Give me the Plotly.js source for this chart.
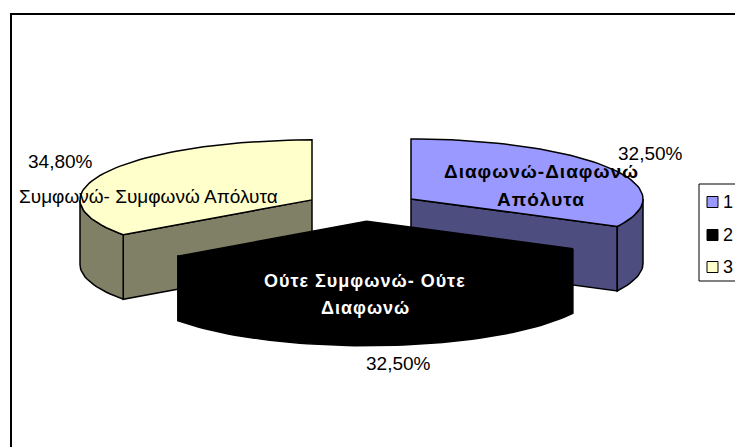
<!DOCTYPE html>
<html>
<head>
<meta charset="utf-8">
<script src="https://cdn.plot.ly/plotly-3.0.1.min.js"></script>
<style>
html,body{margin:0;padding:0;background:#fff;overflow:hidden}
#chart{width:735px;height:447px}
.annotation-text tspan[style*="bold"]{letter-spacing:1px}
</style>
</head>
<body>
<div id="chart"></div>
<script>
// Data
var sliceIds = ['1', '2', '3'];
var sliceValues = [32.5, 32.5, 34.8];
var valueLabels = ['32,50%', '32,50%', '34,80%'];
var sliceLabelLines = [['Διαφωνώ-Διαφωνώ', 'Απόλυτα'], ['Ούτε Συμφωνώ- Ούτε', 'Διαφωνώ'], ['Συμφωνώ- Συμφωνώ Απόλυτα']];

// Styles
var topColors = ['#9999FF', '#000000', '#FFFFCC'];
var sideColors = ['#4D4D80', '#000000', '#808066'];

// Projection of the tilted pie
var cx = 362.5, cy = 206.6, rx = 232, ry = 60, depth = 64.5, explode = 56.8;
var total = sliceValues.reduce(function (a, b) { return a + b; }, 0);

function pt(o, t, dz) {
  var r = t * Math.PI / 180;
  return [o[0] + rx * Math.sin(r), o[1] - ry * Math.cos(r) + (dz || 0)];
}
var slices = [], acc = 0;
sliceValues.forEach(function (v) {
  var a0 = acc / total * 360, a1 = (acc + v) / total * 360, m = (a0 + a1) / 2 * Math.PI / 180;
  acc += v;
  slices.push({a0: a0, a1: a1, o: [cx + explode * Math.sin(m), cy - explode * ry / rx * Math.cos(m)]});
});
function arc(o, a0, a1, dz) {
  var n = Math.max(2, Math.ceil(Math.abs(a1 - a0) / 2)), out = [];
  for (var i = 0; i <= n; i++) out.push(pt(o, a0 + (a1 - a0) * i / n, dz));
  return out;
}
function poly(points, fill, name) {
  points = points.concat([points[0]]);
  return {
    type: 'scatter', mode: 'lines', name: name, showlegend: false, hoverinfo: 'skip',
    x: points.map(function (p) { return p[0]; }),
    y: points.map(function (p) { return p[1]; }),
    fill: 'toself', fillcolor: fill,
    line: {color: '#000000', width: 1.5}
  };
}
function rim(s, a0, a1, fill, name) {
  return poly(arc(s.o, a0, a1, 0).concat(arc(s.o, a1, a0, depth)), fill, name);
}
function cutFace(s, angle, fill, name) {
  var e = pt(s.o, angle, 0), e2 = pt(s.o, angle, depth);
  return poly([s.o, e, e2, [s.o[0], s.o[1] + depth]], fill, name);
}
function topFace(s, fill, name) {
  return poly([s.o].concat(arc(s.o, s.a0, s.a1, 0)), fill, name);
}

var traces = [
  cutFace(slices[2], slices[2].a0, sideColors[2], 'side 3'),
  rim(slices[2], slices[2].a0, 270, sideColors[2], 'rim 3'),
  topFace(slices[2], topColors[2], 'top 3'),
  cutFace(slices[0], slices[0].a1, sideColors[0], 'side 1'),
  rim(slices[0], 90, slices[0].a1, sideColors[0], 'rim 1'),
  topFace(slices[0], topColors[0], 'top 1'),
  rim(slices[1], slices[1].a0, slices[1].a1, sideColors[1], 'rim 2'),
  topFace(slices[1], topColors[1], 'top 2')
];

// Legend key
var legendX = 712.5, legendY = [202, 235, 267], legendTextX = 721;
traces.push({
  type: 'scatter', mode: 'markers', showlegend: false, hoverinfo: 'skip',
  x: legendY.map(function () { return legendX; }), y: legendY,
  marker: {symbol: 'square', size: 11, color: topColors, line: {color: '#000000', width: 1}}
});

var font = 'Liberation Sans, Arial, sans-serif';
function note(text, x, y, size, color, bold) {
  return {
    xref: 'x', yref: 'y', x: x, y: y, showarrow: false, xanchor: 'center', yanchor: 'middle',
    text: bold ? '<b>' + text + '</b>' : text,
    font: {family: font, size: size, color: color}
  };
}
var annotations = [
  note(valueLabels[0], 650, 153, 19, '#000000'),
  note(valueLabels[1], 398, 363, 19, '#000000'),
  note(valueLabels[2], 60, 161, 19, '#000000'),
  note(sliceLabelLines[0][0], 541, 171, 19, '#000000', true),
  note(sliceLabelLines[0][1], 541, 199, 19, '#000000', true),
  note(sliceLabelLines[1][0], 365, 281, 18, '#FFFFFF', true),
  note(sliceLabelLines[1][1], 365, 308, 18, '#FFFFFF', true),
  note(sliceLabelLines[2][0], 148, 196, 19, '#000000')
];
sliceIds.forEach(function (id, i) {
  var a = note(id, legendTextX, legendY[i], 18, '#000000');
  a.xanchor = 'left';
  annotations.push(a);
});

var layout = {
  width: 735, height: 447,
  margin: {l: 0, r: 0, t: 0, b: 0},
  paper_bgcolor: '#ffffff', plot_bgcolor: '#ffffff',
  showlegend: false,
  xaxis: {range: [0, 735], visible: false, fixedrange: true},
  yaxis: {range: [447, 0], visible: false, fixedrange: true},
  annotations: annotations,
  shapes: [
    {type: 'rect', xref: 'x', yref: 'y', x0: 11, y0: 14, x1: 760, y1: 470, line: {color: '#000000', width: 2}, layer: 'below'},
    {type: 'rect', xref: 'x', yref: 'y', x0: 699, y0: 184, x1: 760, y1: 281, line: {color: '#000000', width: 1}, fillcolor: '#ffffff', layer: 'below'}
  ]
};
Plotly.newPlot('chart', traces, layout, {displayModeBar: false, staticPlot: true});
</script>
</body>
</html>
